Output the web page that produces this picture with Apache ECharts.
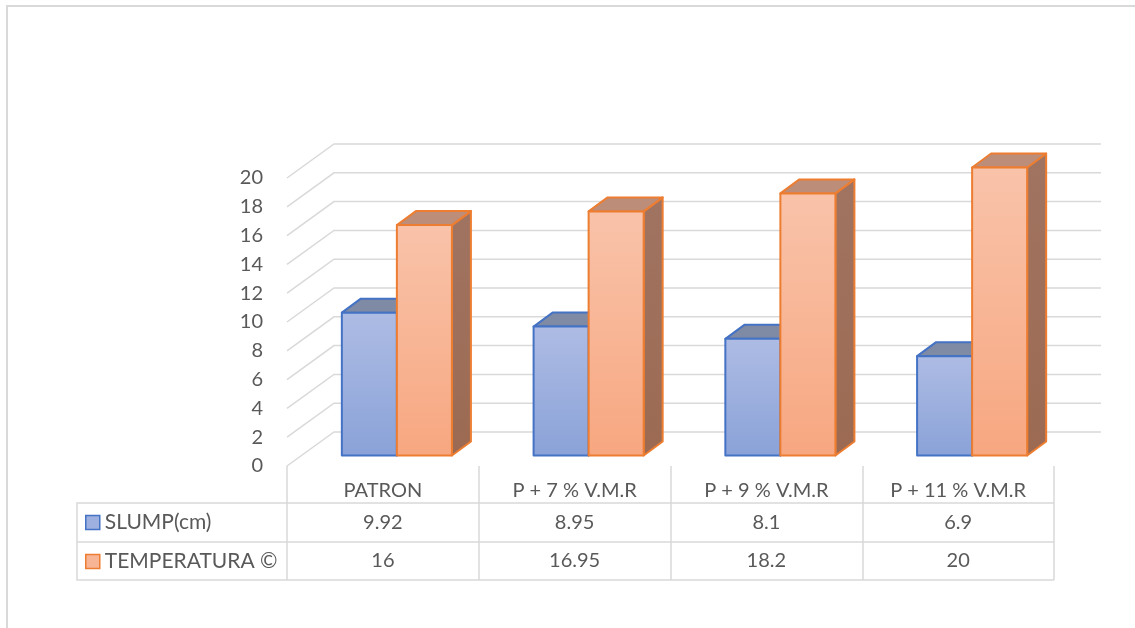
<!DOCTYPE html>
<html>
<head>
<meta charset="utf-8">
<script src="https://cdn.jsdelivr.net/npm/echarts@6/dist/echarts.min.js"></script>
<style>
  html, body { margin: 0; padding: 0; background: #fff; }
  #chart { width: 1135px; height: 628px; }
</style>
</head>
<body>
<div id="chart"></div>
<script>
// datos del gráfico
const categories = ['PATRON', 'P + 7 % V.M.R', 'P + 9 % V.M.R', 'P + 11 % V.M.R']
const slump = [9.92, 8.95, 8.1, 6.9]
const temperatura = [16, 16.95, 18.2, 20]
const seriesNames = ['SLUMP(cm)', 'TEMPERATURA ©']
const yTicks = [0, 2, 4, 6, 8, 10, 12, 14, 16, 18, 20]

const FONT = 'Lato'
const TEXT = '#595959'
const GRID_COLOR = '#D9D9D9'

// perspectiva 3D (pared del fondo y plano de las barras)
const WALL_DX = 47
const WALL_DY = 34
const BAR_DX = 14
const BAR_DY = 10.5
const DEPTH_DX = 19
const DEPTH_DY = 14

// filas de la tabla de datos
const ROW_Y = [523, 561]

const styles = [
  {
    front: ['#AEBCE4', '#8AA2D8'],
    side: '#5E6E93',
    top: '#7F8BA5',
    stroke: '#4472C4',
  },
  {
    front: ['#F9C3AA', '#F7A780'],
    side: ['#A07462', '#9C6A52'],
    top: '#BC8E7A',
    stroke: '#ED7D31',
  },
]

const chart = echarts.init(document.getElementById('chart'))

function gradient(c) {
  if (typeof c === 'string')
    return c
  return new echarts.graphic.LinearGradient(0, 0, 0, 1, [
    { offset: 0, color: c[0] },
    { offset: 1, color: c[1] },
  ])
}

// líneas de la cuadrícula: diagonal del suelo + pared del fondo
function renderGrid(params, api) {
  const cs = params.coordSys
  const y = api.coord([0, api.value(0)])[1]
  return {
    type: 'polyline',
    shape: {
      points: [
        [cs.x, y],
        [cs.x + WALL_DX, y - WALL_DY],
        [cs.x + cs.width + WALL_DX, y - WALL_DY],
      ],
    },
    style: { stroke: GRID_COLOR, lineWidth: 1.5, fill: null },
    silent: true,
  }
}

// caja 3D + celda de la tabla
function makeBarRenderer(idx) {
  const st = styles[idx]
  return function (params, api) {
    const i = api.value(0)
    const v = api.value(1)
    const band = api.size([1, 0])[0]
    const w = band * 0.287
    const cx = api.coord([i, 0])[0] + BAR_DX
    const x0 = idx === 0 ? cx - w : cx
    const x1 = x0 + w
    const yb = api.coord([i, 0])[1] - BAR_DY
    const yt = api.coord([i, v])[1] - BAR_DY
    const lineStyle = { stroke: st.stroke, lineWidth: 2, lineJoin: 'round' }
    return {
      type: 'group',
      children: [
        {
          type: 'polygon',
          shape: { points: [[x1, yt], [x1 + DEPTH_DX, yt - DEPTH_DY], [x1 + DEPTH_DX, yb - DEPTH_DY], [x1, yb]] },
          style: Object.assign({ fill: gradient(st.side) }, lineStyle),
        },
        {
          type: 'polygon',
          shape: { points: [[x0, yt], [x0 + DEPTH_DX, yt - DEPTH_DY], [x1 + DEPTH_DX, yt - DEPTH_DY], [x1, yt]] },
          style: Object.assign({ fill: st.top }, lineStyle),
        },
        {
          type: 'rect',
          shape: { x: x0, y: yt, width: w, height: yb - yt },
          style: Object.assign({ fill: gradient(st.front) }, lineStyle),
        },
        {
          type: 'text',
          x: api.coord([i, 0])[0],
          y: ROW_Y[idx],
          style: {
            text: String(v),
            font: `20px ${FONT}`,
            fill: TEXT,
            align: 'center',
            verticalAlign: 'middle',
          },
        },
      ],
    }
  }
}

chart.setOption({
  animation: false,
  textStyle: { fontFamily: FONT },
  grid: { left: 287, right: 81, top: 178, height: 288 },
  legend: {
    orient: 'vertical',
    left: 85,
    top: 512,
    padding: 0,
    itemGap: 18,
    itemWidth: 14,
    itemHeight: 14,
    icon: 'rect',
    selectedMode: false,
    textStyle: { color: TEXT, fontSize: 21, lineHeight: 20, fontFamily: FONT },
    data: [
      { name: seriesNames[0], itemStyle: { color: '#9DB0E0', borderColor: '#4472C4', borderWidth: 1.5 } },
      { name: seriesNames[1], itemStyle: { color: '#F8B596', borderColor: '#ED7D31', borderWidth: 1.5 } },
    ],
  },
  xAxis: {
    type: 'category',
    data: categories,
    axisLine: { show: false },
    axisTick: { show: true, length: 114, lineStyle: { color: GRID_COLOR, width: 1.5 } },
    axisLabel: { color: TEXT, fontSize: 20, fontFamily: FONT, margin: 15 },
    splitLine: { show: false },
  },
  yAxis: {
    type: 'value',
    min: 0,
    max: 20,
    interval: 2,
    axisLine: { show: false },
    axisTick: { show: false },
    axisLabel: { color: TEXT, fontSize: 20, fontFamily: FONT, margin: 24 },
    splitLine: { show: false },
  },
  graphic: [
    // borde del área del gráfico
    { type: 'rect', shape: { x: 7, y: 6, width: 1200, height: 700 }, style: { fill: null, stroke: GRID_COLOR, lineWidth: 2 }, silent: true },
    // líneas de la tabla
    { type: 'polyline', shape: { points: [[1054, 503], [77, 503], [77, 580], [1054, 580]] }, style: { stroke: GRID_COLOR, lineWidth: 1.5, fill: null }, silent: true },
    { type: 'line', shape: { x1: 77, y1: 542, x2: 1054, y2: 542 }, style: { stroke: GRID_COLOR, lineWidth: 1.5 }, silent: true },
  ],
  series: [
    {
      type: 'custom',
      name: 'grid',
      renderItem: renderGrid,
      data: yTicks.map(t => [t]),
      z: 1,
      silent: true,
    },
    {
      type: 'custom',
      name: seriesNames[0],
      renderItem: makeBarRenderer(0),
      data: slump.map((v, i) => [i, v]),
      z: 2,
    },
    {
      type: 'custom',
      name: seriesNames[1],
      renderItem: makeBarRenderer(1),
      data: temperatura.map((v, i) => [i, v]),
      z: 3,
    },
  ],
})
</script>
</body>
</html>
